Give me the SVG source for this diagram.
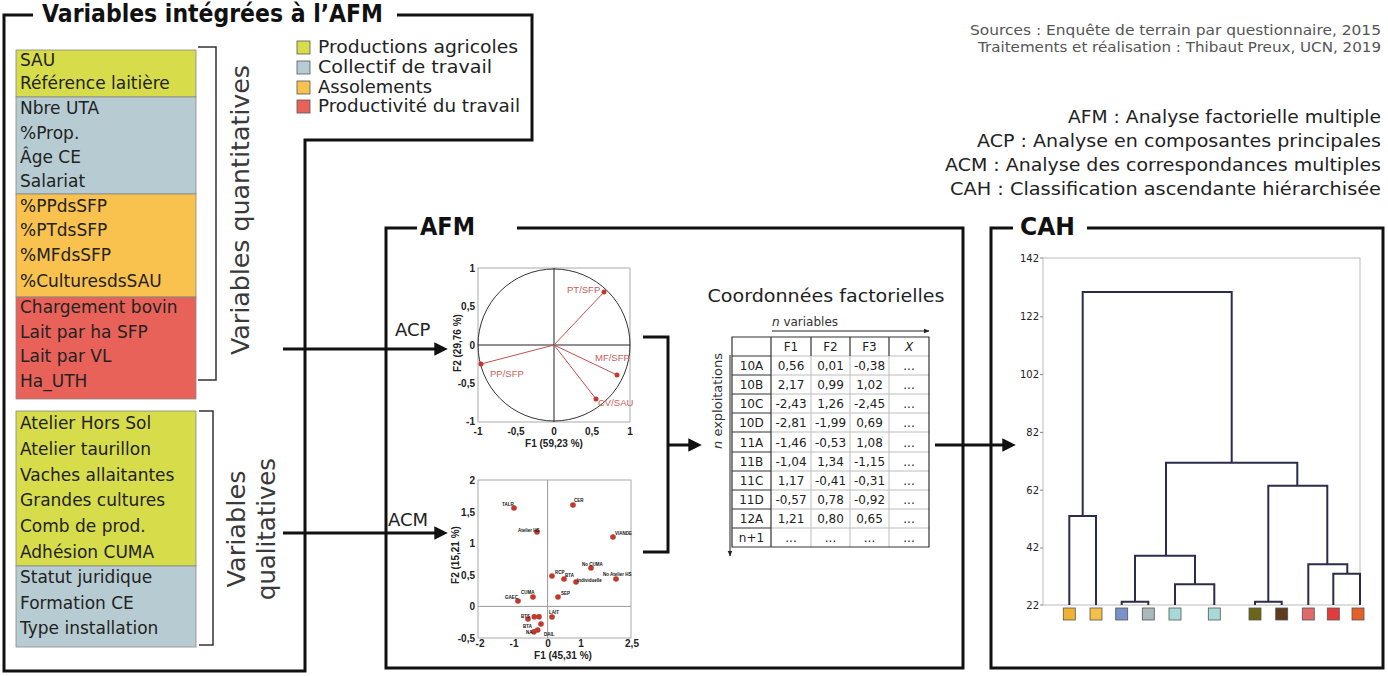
<svg xmlns="http://www.w3.org/2000/svg" width="1388" height="676" viewBox="0 0 1388 676">
<defs>
<style>
text{font-family:"DejaVu Sans","Liberation Sans",sans-serif}
.frame{fill:none;stroke:#111;stroke-width:3}
.ttl{font-weight:bold;font-size:24px;fill:#111}
.li{font-size:17px;fill:#222}
.rot{font-size:25px;fill:#3a3a3a}
.br{fill:none;stroke:#333;stroke-width:1.5}
.lg{font-size:18px;fill:#222}
.src{font-size:14.5px;fill:#555;text-anchor:end}
.abr{font-size:18px;fill:#222;text-anchor:end}
.conn{fill:none;stroke:#111;stroke-width:3}
.thin{fill:none;stroke:#222;stroke-width:1}
.pbox{fill:none;stroke:#aaa;stroke-width:1}
.ax{font-family:"Liberation Sans",sans-serif;font-size:10px;font-weight:bold;fill:#222}
.axr{text-anchor:end}
.axm{text-anchor:middle}
.vec{stroke:#c0504d;stroke-width:1}
.vl{font-family:"Liberation Sans",sans-serif;font-size:9.5px;fill:#c9605a}
.dot{fill:#c0392b}
.pl{font-family:"Liberation Sans",sans-serif;font-size:4.5px;font-weight:bold;fill:#111}
.tc{font-size:12px;fill:#222;text-anchor:middle}
.gl{stroke:#bdbdbd;stroke-width:1}
.dl{stroke:#333;stroke-width:1.2;fill:none}
.den{fill:none;stroke:#2b2b4b;stroke-width:2}
.yl{font-size:10px;fill:#222;text-anchor:end}
.leaf{stroke:#555;stroke-width:0.8}
</style>
<marker id="ah" viewBox="0 0 10 10" refX="2" refY="5" markerWidth="4.5" markerHeight="4.5" orient="auto" markerUnits="strokeWidth">
<path d="M0,0 L10,5 L0,10 z" fill="#111"/>
</marker>
<marker id="sa" viewBox="0 0 10 10" refX="9" refY="5" markerWidth="6" markerHeight="6" orient="auto" markerUnits="strokeWidth">
<path d="M0,1 L10,5 L0,9 z" fill="#222"/>
</marker>
</defs>
<rect width="1388" height="676" fill="#fff"/>

<g id="frame-variables">
<path class="frame" d="M33 15 H4 V671 H305 V140 H532 V15 H397"/>
<text class="ttl" x="42" y="22" textLength="341" lengthAdjust="spacingAndGlyphs">Variables intégrées à l’AFM</text>
</g>

<g id="quantitative-list">
<rect x="16" y="50" width="180" height="47" fill="#d7dc4b" stroke="#888" stroke-width="0.8"/>
<rect x="16" y="97" width="180" height="97" fill="#b7ccd2" stroke="#888" stroke-width="0.8"/>
<rect x="16" y="194" width="180" height="103" fill="#f9c14d" stroke="#888" stroke-width="0.8"/>
<rect x="16" y="297" width="180" height="102" fill="#e8625a" stroke="#888" stroke-width="0.8"/>
<text class="li" x="20" y="66">SAU</text>
<text class="li" x="20" y="89">Référence laitière</text>
<text class="li" x="20" y="114">Nbre UTA</text>
<text class="li" x="20" y="139">%Prop.</text>
<text class="li" x="20" y="163">Âge CE</text>
<text class="li" x="20" y="187">Salariat</text>
<text class="li" x="20" y="212">%PPdsSFP</text>
<text class="li" x="20" y="236">%PTdsSFP</text>
<text class="li" x="20" y="261">%MFdsSFP</text>
<text class="li" x="20" y="287">%CulturesdsSAU</text>
<text class="li" x="20" y="313">Chargement bovin</text>
<text class="li" x="20" y="338">Lait par ha SFP</text>
<text class="li" x="20" y="362">Lait par VL</text>
<text class="li" x="20" y="387">Ha_UTH</text>
<path class="br" d="M198 47 H216 V380 H198"/>
<text class="rot" transform="translate(249,210) rotate(-90)" text-anchor="middle" textLength="290" lengthAdjust="spacingAndGlyphs">Variables quantitatives</text>
</g>

<g id="qualitative-list">
<rect x="16" y="411" width="180" height="155" fill="#d7dc4b" stroke="#888" stroke-width="0.8"/>
<rect x="16" y="566" width="180" height="81" fill="#b7ccd2" stroke="#888" stroke-width="0.8"/>
<text class="li" x="20" y="429">Atelier Hors Sol</text>
<text class="li" x="20" y="455">Atelier taurillon</text>
<text class="li" x="20" y="481">Vaches allaitantes</text>
<text class="li" x="20" y="506">Grandes cultures</text>
<text class="li" x="20" y="532">Comb de prod.</text>
<text class="li" x="20" y="558">Adhésion CUMA</text>
<text class="li" x="20" y="583">Statut juridique</text>
<text class="li" x="20" y="609">Formation CE</text>
<text class="li" x="20" y="634">Type installation</text>
<path class="br" d="M199 411 H213 V645 H199"/>
<text class="rot" transform="translate(245,529) rotate(-90)" text-anchor="middle" textLength="117" lengthAdjust="spacingAndGlyphs">Variables</text>
<text class="rot" transform="translate(275,529) rotate(-90)" text-anchor="middle" textLength="142" lengthAdjust="spacingAndGlyphs">qualitatives</text>
</g>

<g id="legend">
<rect x="297" y="41" width="13" height="13" fill="#d7dc4b" stroke="#555" stroke-width="0.8"/>
<rect x="297" y="61" width="13" height="13" fill="#b7ccd2" stroke="#555" stroke-width="0.8"/>
<rect x="297" y="81" width="13" height="13" fill="#f9c14d" stroke="#555" stroke-width="0.8"/>
<rect x="297" y="100" width="13" height="13" fill="#e8625a" stroke="#555" stroke-width="0.8"/>
<text class="lg" x="318" y="53" textLength="200" lengthAdjust="spacingAndGlyphs">Productions agricoles</text>
<text class="lg" x="318" y="73" textLength="174" lengthAdjust="spacingAndGlyphs">Collectif de travail</text>
<text class="lg" x="318" y="93" textLength="114" lengthAdjust="spacingAndGlyphs">Assolements</text>
<text class="lg" x="318" y="112" textLength="202" lengthAdjust="spacingAndGlyphs">Productivité du travail</text>
</g>

<g id="sources">
<text class="src" x="1381" y="35" textLength="411" lengthAdjust="spacingAndGlyphs">Sources : Enquête de terrain par questionnaire, 2015</text>
<text class="src" x="1381" y="52" textLength="403" lengthAdjust="spacingAndGlyphs">Traitements et réalisation : Thibaut Preux, UCN, 2019</text>
</g>

<g id="abbreviations">
<text class="abr" x="1381" y="123" textLength="313" lengthAdjust="spacingAndGlyphs">AFM : Analyse factorielle multiple</text>
<text class="abr" x="1381" y="147" textLength="404" lengthAdjust="spacingAndGlyphs">ACP : Analyse en composantes principales</text>
<text class="abr" x="1381" y="171" textLength="436" lengthAdjust="spacingAndGlyphs">ACM : Analyse des correspondances multiples</text>
<text class="abr" x="1381" y="195" textLength="431" lengthAdjust="spacingAndGlyphs">CAH : Classification ascendante hiérarchisée</text>
</g>

<g id="afm">
<path class="frame" d="M417 228 H386 V668 H963 V228 H517"/>
<text class="ttl" x="420" y="235" font-size="23" textLength="55" lengthAdjust="spacingAndGlyphs">AFM</text>
</g>

<g id="acp-plot">
<rect class="pbox" x="478" y="268" width="152" height="154"/>
<circle cx="554" cy="345" r="76" fill="none" stroke="#333" stroke-width="1"/>
<line class="thin" x1="478" y1="345" x2="630" y2="345"/>
<line class="thin" x1="554" y1="268" x2="554" y2="422"/>
<line class="vec" x1="554" y1="345" x2="604" y2="292"/>
<line class="vec" x1="554" y1="345" x2="617" y2="375"/>
<line class="vec" x1="554" y1="345" x2="596" y2="399"/>
<line class="vec" x1="554" y1="345" x2="481" y2="364"/>
<circle class="dot" cx="604" cy="292" r="2.5"/>
<circle class="dot" cx="617" cy="375" r="2.5"/>
<circle class="dot" cx="596" cy="399" r="2.5"/>
<circle class="dot" cx="481" cy="364" r="2.5"/>
<text class="vl" x="567" y="293">PT/SFP</text>
<text class="vl" x="595" y="361">MF/SFP</text>
<text class="vl" x="598" y="406">CV/SAU</text>
<text class="vl" x="490" y="377">PP/SFP</text>
<text class="ax axr" x="475" y="272">1</text>
<text class="ax axr" x="475" y="310">0,5</text>
<text class="ax axr" x="475" y="349">0</text>
<text class="ax axr" x="475" y="387">-0,5</text>
<text class="ax axr" x="475" y="425">-1</text>
<text class="ax axm" x="478" y="435">-1</text>
<text class="ax axm" x="516" y="435">-0,5</text>
<text class="ax axm" x="554" y="435">0</text>
<text class="ax axm" x="592" y="435">0,5</text>
<text class="ax axm" x="630" y="435">1</text>
<text class="ax axm" x="554" y="447" font-size="8.5">F1 (59,23 %)</text>
<text class="ax axm" transform="translate(461,343) rotate(-90)" font-size="8.5">F2 (29,76 %)</text>
</g>

<g id="acm-plot">
<rect class="pbox" x="478" y="480" width="153" height="158"/>
<line x1="478" y1="606.4" x2="631" y2="606.4" stroke="#999" stroke-width="1"/>
<line x1="547.6" y1="480" x2="547.6" y2="638" stroke="#999" stroke-width="1"/>
<text class="ax axr" x="475" y="484" font-size="11">2</text>
<text class="ax axr" x="475" y="515.6" font-size="11">1,5</text>
<text class="ax axr" x="475" y="547.2" font-size="11">1</text>
<text class="ax axr" x="475" y="578.8" font-size="11">0,5</text>
<text class="ax axr" x="475" y="610.4" font-size="11">0</text>
<text class="ax axr" x="475" y="642" font-size="11">-0,5</text>
<text class="ax axm" x="480" y="647">-2</text>
<text class="ax axm" x="514" y="647">-1</text>
<text class="ax axm" x="548" y="647">0</text>
<text class="ax axm" x="581" y="647">1</text>
<text class="ax axm" x="632" y="647">2,5</text>
<text class="ax axm" x="563" y="659" font-size="9">F1 (45,31 %)</text>
<text class="ax axm" transform="translate(459,555) rotate(-90)">F2 (15,21 %)</text>
<g>
<circle class="dot" cx="514" cy="508" r="2.8"/>
<circle class="dot" cx="573" cy="505" r="2.8"/>
<circle class="dot" cx="537" cy="532" r="2.8"/>
<circle class="dot" cx="613" cy="537" r="2.8"/>
<circle class="dot" cx="591" cy="568" r="2.8"/>
<circle class="dot" cx="616" cy="579" r="2.8"/>
<circle class="dot" cx="552" cy="576" r="2.8"/>
<circle class="dot" cx="564" cy="579" r="2.8"/>
<circle class="dot" cx="576" cy="582" r="2.8"/>
<circle class="dot" cx="558" cy="597" r="2.8"/>
<circle class="dot" cx="533" cy="597" r="2.8"/>
<circle class="dot" cx="518" cy="601" r="2.8"/>
<circle class="dot" cx="552" cy="617" r="2.8"/>
<circle class="dot" cx="528" cy="619" r="2.8"/>
<circle class="dot" cx="534.3" cy="616.7" r="2.8"/>
<circle class="dot" cx="539" cy="616.7" r="2.8"/>
<circle class="dot" cx="541" cy="624" r="2.8"/>
<circle class="dot" cx="537.7" cy="630" r="2.8"/>
<circle class="dot" cx="534" cy="631.7" r="2.8"/>
</g>
<text class="pl" x="502" y="506">TALR</text>
<text class="pl" x="574" y="502">CER</text>
<text class="pl" x="518" y="532">Atelier HS</text>
<text class="pl" x="615" y="535">VIANDE</text>
<text class="pl" x="582" y="566">No CUMA</text>
<text class="pl" x="603" y="576">No Atelier HS</text>
<text class="pl" x="555" y="574">RCP</text>
<text class="pl" x="565" y="577">BTA</text>
<text class="pl" x="577" y="582">Individuelle</text>
<text class="pl" x="561" y="595">SEP</text>
<text class="pl" x="521" y="594">CUMA</text>
<text class="pl" x="505" y="599">GAEC</text>
<text class="pl" x="549" y="614">LAIT</text>
<text class="pl" x="521" y="618">BTS</text>
<text class="pl" x="523" y="628">BTA</text>
<text class="pl" x="526" y="634">NA</text>
<text class="pl" x="544" y="636">DAIL</text>
</g>

<g id="table">
<text x="826" y="302" font-size="18" fill="#222" text-anchor="middle" textLength="237" lengthAdjust="spacingAndGlyphs">Coordonnées factorielles</text>
<text x="805" y="326" font-size="12" fill="#333" text-anchor="middle"><tspan font-style="italic">n</tspan> variables</text>
<line class="thin" x1="772" y1="331" x2="929" y2="331" marker-end="url(#sa)"/>
<line class="thin" x1="730" y1="355" x2="730" y2="556" marker-end="url(#sa)"/>
<text transform="translate(722,401) rotate(-90)" font-size="13" fill="#333" text-anchor="middle"><tspan font-style="italic">n</tspan> exploitations</text>
<g>
<line class="gl" x1="771" y1="375" x2="929" y2="375"/>
<line class="gl" x1="771" y1="394" x2="929" y2="394"/>
<line class="gl" x1="771" y1="413" x2="929" y2="413"/>
<line class="gl" x1="771" y1="432" x2="929" y2="432"/>
<line class="gl" x1="771" y1="452" x2="929" y2="452"/>
<line class="gl" x1="771" y1="471" x2="929" y2="471"/>
<line class="gl" x1="771" y1="490" x2="929" y2="490"/>
<line class="gl" x1="771" y1="509" x2="929" y2="509"/>
<line class="gl" x1="771" y1="528" x2="929" y2="528"/>
<line class="gl" x1="771" y1="356" x2="929" y2="356"/>
<line class="gl" x1="811" y1="356" x2="811" y2="547"/>
<line class="gl" x1="850" y1="356" x2="850" y2="547"/>
<line class="gl" x1="889" y1="356" x2="889" y2="547"/>
</g>
<path class="dl" d="M732 337 H929 V547 H732 Z M771 337 V547 M811 337 V356 M850 337 V356 M889 337 V356 M732 356 H771 M732 375 H771 M732 394 H771 M732 413 H771 M732 432 H771 M732 452 H771 M732 471 H771 M732 490 H771 M732 509 H771 M732 528 H771"/>
<text class="tc" x="791" y="351">F1</text>
<text class="tc" x="830.5" y="351">F2</text>
<text class="tc" x="869.5" y="351">F3</text>
<text class="tc" x="909" y="351" font-style="italic">X</text>
<g>
<text class="tc" x="751.5" y="370">10A</text><text class="tc" x="791" y="370">0,56</text><text class="tc" x="830.5" y="370">0,01</text><text class="tc" x="869.5" y="370">-0,38</text><text class="tc" x="909" y="370">...</text>
<text class="tc" x="751.5" y="389">10B</text><text class="tc" x="791" y="389">2,17</text><text class="tc" x="830.5" y="389">0,99</text><text class="tc" x="869.5" y="389">1,02</text><text class="tc" x="909" y="389">...</text>
<text class="tc" x="751.5" y="408">10C</text><text class="tc" x="791" y="408">-2,43</text><text class="tc" x="830.5" y="408">1,26</text><text class="tc" x="869.5" y="408">-2,45</text><text class="tc" x="909" y="408">...</text>
<text class="tc" x="751.5" y="427">10D</text><text class="tc" x="791" y="427">-2,81</text><text class="tc" x="830.5" y="427">-1,99</text><text class="tc" x="869.5" y="427">0,69</text><text class="tc" x="909" y="427">...</text>
<text class="tc" x="751.5" y="446.5">11A</text><text class="tc" x="791" y="446.5">-1,46</text><text class="tc" x="830.5" y="446.5">-0,53</text><text class="tc" x="869.5" y="446.5">1,08</text><text class="tc" x="909" y="446.5">...</text>
<text class="tc" x="751.5" y="466">11B</text><text class="tc" x="791" y="466">-1,04</text><text class="tc" x="830.5" y="466">1,34</text><text class="tc" x="869.5" y="466">-1,15</text><text class="tc" x="909" y="466">...</text>
<text class="tc" x="751.5" y="485">11C</text><text class="tc" x="791" y="485">1,17</text><text class="tc" x="830.5" y="485">-0,41</text><text class="tc" x="869.5" y="485">-0,31</text><text class="tc" x="909" y="485">...</text>
<text class="tc" x="751.5" y="504">11D</text><text class="tc" x="791" y="504">-0,57</text><text class="tc" x="830.5" y="504">0,78</text><text class="tc" x="869.5" y="504">-0,92</text><text class="tc" x="909" y="504">...</text>
<text class="tc" x="751.5" y="523">12A</text><text class="tc" x="791" y="523">1,21</text><text class="tc" x="830.5" y="523">0,80</text><text class="tc" x="869.5" y="523">0,65</text><text class="tc" x="909" y="523">...</text>
<text class="tc" x="751.5" y="542">n+1</text><text class="tc" x="791" y="542">...</text><text class="tc" x="830.5" y="542">...</text><text class="tc" x="869.5" y="542">...</text><text class="tc" x="909" y="542">...</text>
</g>
</g>

<g id="cah">
<path class="frame" d="M1013 228 H991 V668 H1383 V228 H1087"/>
<text class="ttl" x="1020" y="235" font-size="23" textLength="55" lengthAdjust="spacingAndGlyphs">CAH</text>
<rect x="1043" y="258" width="317" height="347" fill="none" stroke="#bbb" stroke-width="1"/>
<path d="M1040 258 H1043 M1040 316.8 H1043 M1040 374.6 H1043 M1040 432.4 H1043 M1040 490.2 H1043 M1040 548 H1043 M1040 605 H1043" stroke="#888" stroke-width="1"/>
<text class="yl" x="1039" y="261.5">142</text>
<text class="yl" x="1039" y="320.3">122</text>
<text class="yl" x="1039" y="378">102</text>
<text class="yl" x="1039" y="435.8">82</text>
<text class="yl" x="1039" y="493.6">62</text>
<text class="yl" x="1039" y="551.4">42</text>
<text class="yl" x="1039" y="608.5">22</text>
<path class="den" d="M1069.3 605 V516 H1096 V605 M1082.7 516 V292 H1231.7 V462.7 M1166 555.7 V462.7 H1297.3 V485.7 M1135 601.7 V555.7 H1195 V584.3 M1121.7 605 V601.7 H1148.3 V605 M1175 605 V584.3 H1214.3 V605 M1255 605 V601.7 H1281.7 V605 M1268.3 601.7 V485.7 H1327.3 V564.3 M1308.3 605 V564.3 H1347.3 V573.7 M1333.3 605 V573.7 H1360 V605"/>
<rect class="leaf" x="1063.3" y="608" width="12" height="12" fill="#f0b232"/>
<rect class="leaf" x="1090" y="608" width="12" height="12" fill="#f5c048"/>
<rect class="leaf" x="1115.7" y="608" width="12" height="12" fill="#7b92c8"/>
<rect class="leaf" x="1142.3" y="608" width="12" height="12" fill="#a8b8bd"/>
<rect class="leaf" x="1169" y="608" width="12" height="12" fill="#a8d9d9"/>
<rect class="leaf" x="1208.3" y="608" width="12" height="12" fill="#a8d9d4"/>
<rect class="leaf" x="1249" y="608" width="12" height="12" fill="#6b6519"/>
<rect class="leaf" x="1275.7" y="608" width="12" height="12" fill="#5e3a1e"/>
<rect class="leaf" x="1302.3" y="608" width="12" height="12" fill="#e06a6a"/>
<rect class="leaf" x="1327.3" y="608" width="12" height="12" fill="#e03c3c"/>
<rect class="leaf" x="1352" y="608" width="12" height="12" fill="#e5612a"/>
</g>

<g id="connectors">
<line class="conn" x1="283" y1="349" x2="437" y2="349" marker-end="url(#ah)"/>
<text x="395" y="336" font-size="18" fill="#222">ACP</text>
<line class="conn" x1="283" y1="533" x2="437" y2="533" marker-end="url(#ah)"/>
<text x="388" y="526" font-size="18" fill="#222">ACM</text>
<path class="conn" d="M643 337 H668 V552 H643"/>
<line class="conn" x1="668" y1="445" x2="691" y2="445" marker-end="url(#ah)"/>
<line class="conn" x1="935" y1="445" x2="1005" y2="445" marker-end="url(#ah)"/>
</g>
</svg>
